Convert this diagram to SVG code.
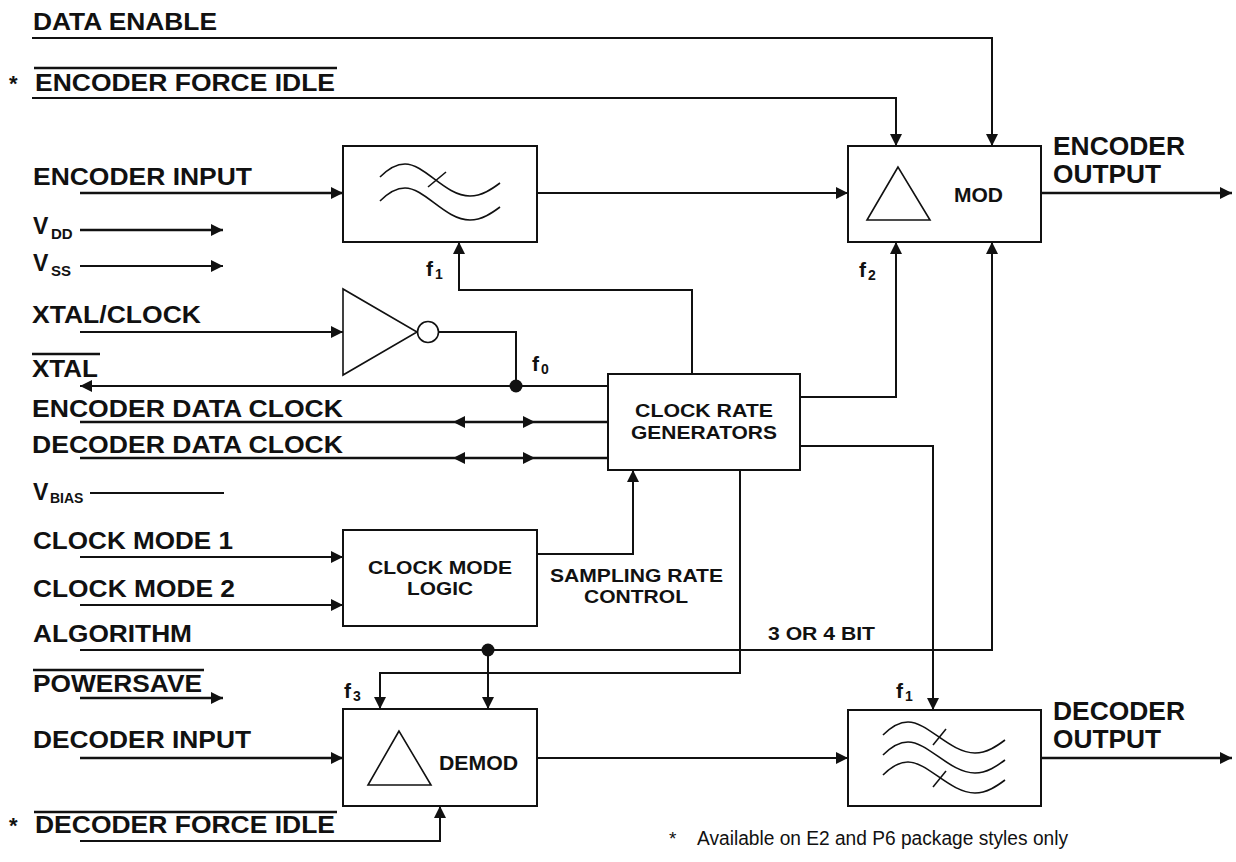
<svg xmlns="http://www.w3.org/2000/svg" width="1236" height="862" viewBox="0 0 1236 862">
<style>
.t{font-family:"Liberation Sans",Arial,Helvetica,sans-serif;font-weight:bold;fill:#111;}
.n{font-family:"Liberation Sans",Arial,Helvetica,sans-serif;fill:#111;}
.box{fill:#fff;stroke:#111;stroke-width:2;}
.sym{fill:none;stroke:#111;stroke-width:1.6;}
.w{fill:none;stroke:#111;stroke-width:2;}
.wi{fill:none;stroke:#111;stroke-width:2.6;}
.ol{stroke:#111;stroke-width:2.4;}
.ah{fill:#111;}
</style>
<defs>
<marker id="a" markerUnits="userSpaceOnUse" markerWidth="13" markerHeight="13" refX="12" refY="6" orient="auto">
<path d="M0,0 L12,6 L0,12 z" fill="#111"/>
</marker>
</defs>

<g id="connectors">
<path class="w" d="M32,38 H992 V146" marker-end="url(#a)"/>
<path class="w" d="M32,98 H896 V146" marker-end="url(#a)"/>
<path class="wi" d="M80,193 H343" marker-end="url(#a)"/>
<path class="w" d="M537,193 H848" marker-end="url(#a)"/>
<path class="wi" d="M1041,193 H1232" marker-end="url(#a)"/>
<path class="wi" d="M80,230 H223" marker-end="url(#a)"/>
<path class="w" d="M80,266 H223" marker-end="url(#a)"/>
<path class="w" d="M80,332 H343" marker-end="url(#a)"/>
<path class="w" d="M439,332 H516 V386"/>
<path class="w" d="M608,386 H80" marker-end="url(#a)"/>
<circle cx="516" cy="386" r="6.5" fill="#111"/>
<path class="wi" d="M80,422 H608"/>
<path class="wi" d="M80,458 H608"/>
<polygon class="ah" points="453,422 465,416 465,428"/>
<polygon class="ah" points="535,422 523,416 523,428"/>
<polygon class="ah" points="453,458 465,452 465,464"/>
<polygon class="ah" points="535,458 523,452 523,464"/>
<path class="w" d="M90,493 H224"/>
<path class="w" d="M692,374 V290 H459 V242" marker-end="url(#a)"/>
<path class="w" d="M800,397 H896 V242" marker-end="url(#a)"/>
<path class="w" d="M800,446 H933 V710" marker-end="url(#a)"/>
<path class="w" d="M537,554 H633 V470" marker-end="url(#a)"/>
<path class="w" d="M80,557 H343" marker-end="url(#a)"/>
<path class="w" d="M80,605 H343" marker-end="url(#a)"/>
<path class="w" d="M80,650 H992 V242" marker-end="url(#a)"/>
<circle cx="488" cy="650" r="6.5" fill="#111"/>
<path class="w" d="M488,650 V709" marker-end="url(#a)"/>
<path class="w" d="M740,470 V673 H380 V709" marker-end="url(#a)"/>
<path class="wi" d="M80,698 H223" marker-end="url(#a)"/>
<path class="wi" d="M80,758 H343" marker-end="url(#a)"/>
<path class="w" d="M537,758 H848" marker-end="url(#a)"/>
<path class="wi" d="M1041,758 H1232" marker-end="url(#a)"/>
<path class="w" d="M80,841 H440 V806" marker-end="url(#a)"/>
</g>

<g id="filter-enc">
<rect class="box" x="343" y="146" width="194" height="96"/>
<path class="sym" d="M380,177 C388,169 396,164 405,164 C425,164 445,196 470,196 C482,196 492,189 500,183"/>
<path class="sym" d="M380,201 C388,193 396,188 405,188 C425,188 445,220 470,220 C482,220 492,213 500,207"/>
<line class="sym" x1="428" y1="187" x2="446" y2="172"/>
</g>

<g id="mod">
<rect class="box" x="848" y="146" width="193" height="96"/>
<polygon class="sym" points="898,167 867,220 930,220"/>
<text class="t" x="954" y="202" font-size="20" textLength="49" lengthAdjust="spacingAndGlyphs">MOD</text>
</g>

<g id="inverter">
<polygon class="sym" points="343,289 343,375 417,332"/>
<circle class="sym" cx="428" cy="332" r="10.5"/>
</g>

<g id="crg">
<rect class="box" x="608" y="374" width="192" height="96"/>
<text class="t" x="635" y="417" font-size="18.5" textLength="138" lengthAdjust="spacingAndGlyphs">CLOCK RATE</text>
<text class="t" x="631" y="439" font-size="18.5" textLength="146" lengthAdjust="spacingAndGlyphs">GENERATORS</text>
</g>

<g id="cml">
<rect class="box" x="343" y="530" width="194" height="96"/>
<text class="t" x="368" y="574" font-size="19" textLength="144" lengthAdjust="spacingAndGlyphs">CLOCK MODE</text>
<text class="t" x="407" y="595" font-size="19" textLength="66" lengthAdjust="spacingAndGlyphs">LOGIC</text>
</g>

<g id="demod">
<rect class="box" x="343" y="709" width="194" height="97"/>
<polygon class="sym" points="399,731 368,785 431,785"/>
<text class="t" x="439" y="770" font-size="20" textLength="79" lengthAdjust="spacingAndGlyphs">DEMOD</text>
</g>

<g id="filter-dec">
<rect class="box" x="848" y="710" width="193" height="96"/>
<path class="sym" d="M883,735 C891,727 899,722 908,722 C928,722 950,753 975,753 C987,753 997,746 1005,740"/>
<path class="sym" d="M883,755 C891,747 899,742 908,742 C928,742 950,773 975,773 C987,773 997,766 1005,760"/>
<path class="sym" d="M883,775 C891,767 899,762 908,762 C928,762 950,793 975,793 C987,793 997,786 1005,780"/>
<line class="sym" x1="933" y1="745" x2="946" y2="729"/>
<line class="sym" x1="933" y1="787" x2="946" y2="771"/>
</g>

<g id="labels">
<text class="t" x="33" y="30" font-size="23" textLength="184" lengthAdjust="spacingAndGlyphs">DATA ENABLE</text>
<text class="t" x="9" y="91" font-size="22">*</text>
<line class="ol" x1="34" y1="68" x2="337" y2="68"/>
<text class="t" x="35" y="91" font-size="23" textLength="300" lengthAdjust="spacingAndGlyphs">ENCODER FORCE IDLE</text>
<text class="t" x="33" y="185" font-size="23" textLength="219" lengthAdjust="spacingAndGlyphs">ENCODER INPUT</text>
<text class="t" x="33" y="234" font-size="23">V</text>
<text class="t" x="51" y="239" font-size="15">DD</text>
<text class="t" x="33" y="271" font-size="23">V</text>
<text class="t" x="51" y="276" font-size="15">SS</text>
<text class="t" x="32" y="323" font-size="23" textLength="169" lengthAdjust="spacingAndGlyphs">XTAL/CLOCK</text>
<line class="ol" x1="32" y1="354" x2="100" y2="354"/>
<text class="t" x="32" y="377" font-size="23" textLength="66" lengthAdjust="spacingAndGlyphs">XTAL</text>
<text class="t" x="32" y="417" font-size="23" textLength="311" lengthAdjust="spacingAndGlyphs">ENCODER DATA CLOCK</text>
<text class="t" x="32" y="453" font-size="23" textLength="311" lengthAdjust="spacingAndGlyphs">DECODER DATA CLOCK</text>
<text class="t" x="33" y="500" font-size="23">V</text>
<text class="t" x="50" y="503" font-size="14">BIAS</text>
<text class="t" x="33" y="549" font-size="23" textLength="200" lengthAdjust="spacingAndGlyphs">CLOCK MODE 1</text>
<text class="t" x="33" y="597" font-size="23" textLength="202" lengthAdjust="spacingAndGlyphs">CLOCK MODE 2</text>
<text class="t" x="33" y="642" font-size="23" textLength="159" lengthAdjust="spacingAndGlyphs">ALGORITHM</text>
<line class="ol" x1="33" y1="670" x2="204" y2="670"/>
<text class="t" x="33" y="692" font-size="23" textLength="169" lengthAdjust="spacingAndGlyphs">POWERSAVE</text>
<text class="t" x="33" y="748" font-size="23" textLength="218" lengthAdjust="spacingAndGlyphs">DECODER INPUT</text>
<text class="t" x="9" y="833" font-size="22">*</text>
<line class="ol" x1="34" y1="812" x2="337" y2="812"/>
<text class="t" x="35" y="833" font-size="23" textLength="300" lengthAdjust="spacingAndGlyphs">DECODER FORCE IDLE</text>

<text class="t" x="1053" y="155" font-size="26" textLength="132" lengthAdjust="spacingAndGlyphs">ENCODER</text>
<text class="t" x="1053" y="183" font-size="26" textLength="108" lengthAdjust="spacingAndGlyphs">OUTPUT</text>
<text class="t" x="1053" y="720" font-size="26" textLength="132" lengthAdjust="spacingAndGlyphs">DECODER</text>
<text class="t" x="1053" y="748" font-size="26" textLength="108" lengthAdjust="spacingAndGlyphs">OUTPUT</text>

<text class="t" x="426" y="276" font-size="21">f</text>
<text class="t" x="435" y="279" font-size="14">1</text>
<text class="t" x="859" y="277" font-size="21">f</text>
<text class="t" x="868" y="280" font-size="14">2</text>
<text class="t" x="532" y="371" font-size="21">f</text>
<text class="t" x="541" y="374" font-size="14">0</text>
<text class="t" x="344" y="698" font-size="21">f</text>
<text class="t" x="353" y="701" font-size="14">3</text>
<text class="t" x="896" y="698" font-size="21">f</text>
<text class="t" x="905" y="701" font-size="14">1</text>

<text class="t" x="550" y="582" font-size="18.5" textLength="173" lengthAdjust="spacingAndGlyphs">SAMPLING RATE</text>
<text class="t" x="584" y="603" font-size="18.5" textLength="104" lengthAdjust="spacingAndGlyphs">CONTROL</text>
<text class="t" x="768" y="640" font-size="18.5" textLength="107" lengthAdjust="spacingAndGlyphs">3 OR 4 BIT</text>

<text class="n" x="669" y="845" font-size="19">*</text>
<text class="n" x="697" y="845" font-size="20" textLength="371" lengthAdjust="spacingAndGlyphs">Available on E2 and P6 package styles only</text>
</g>
</svg>
